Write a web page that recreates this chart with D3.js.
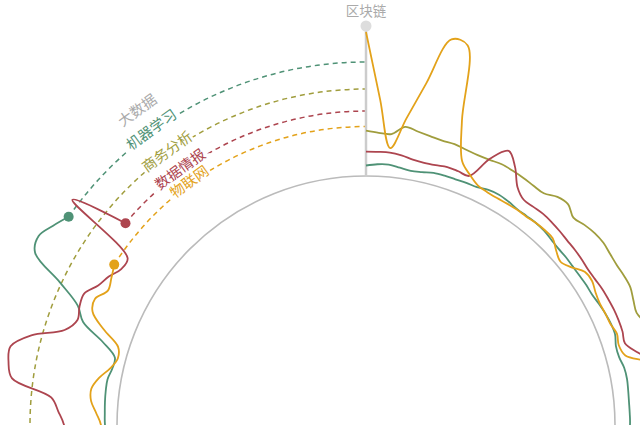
<!DOCTYPE html>
<html>
<head>
<meta charset="utf-8">
<script src="https://d3js.org/d3.v7.min.js"></script>
<style>
  body { margin: 0; background: #fff; }
  svg { display: block; font-family: "Noto Sans CJK SC", "Noto Sans", sans-serif; }
</style>
</head>
<body>
<script>
// [t, value] pairs; t runs clockwise from the top axis (0..360), value 0..100
var jiqiXuexi = [[0,7],[2.5,8],[5,8.3],[7.5,7],[10,6],[12.5,6.7],[15,8],[17.5,8.3],[20,8.3],[22.5,8.7],
  [25,9],[27.5,10.7],[30,11.3],[32.5,10.7],[35,9.7],[37.5,9.7],[40,10],[42.5,9.7],[45,8.7],[47.5,8],
  [50,8],[52.5,7.7],[55,7.7],[57.5,8],[60,8],[62.5,9],[65,10],[67.5,10.7],[70,10.7],[72.5,8.7],
  [75,8.7],[77.5,10.3],[80,10.7],[82.5,10.3],[85,10],[87.5,10],[90,10],
  [105,11],[130,13],[160,14],[190,12],[220,10],[250,9],
  [270,8],[272.5,8.3],[275,8.7],[277.5,9],[280,9],[282.5,7.3],[285,7.3],[287.5,18],[290,34.7],
  [292.5,42],[295,59.3],[297.5,82.7],[300,86],[302.5,81.3],[305,76]];

var shangwuFenxi = [[0,30.2],[2.5,29],[5,28.7],[7.5,34.5],[10,32.7],[12.5,31.3],[15,30.3],[17.5,30.3],
  [20,29.3],[22.5,28.7],[25,29],[27.5,30],[30,29.7],[32.5,29.3],[35,28.7],[37.5,28.7],[40,32.5],
  [42.5,33.5],[45,29.5],[47.5,31.5],[50,33],[52.5,33.5],[55,32.7],[57.5,32.3],[60,32.7],[62.5,32.7],
  [65,30.7],[67.5,29.3],[70,32.7],[72.5,37.3],
  [80,42],[95,46],[120,50],[150,54],[180,57],[210,60],[235,59],[255,58]];

var shujuQingbao = [[0,16.3],[2.5,16.3],[5,16.3],[7.5,15.3],[10,13.7],[12.5,13],[15,13.3],[17.5,14.3],
  [20,14],[22.5,13.7],[25,30],[27.5,40],[30,32.7],[32.5,22],[35,17.3],[37.5,17.3],[40,17.7],[42.5,17.3],
  [45,16.7],[47.5,16],[50,15.7],[52.5,15.3],[55,14.7],[57.5,15],[60,15.7],[62.5,16],[65,16.3],
  [67.5,16.3],[70,16],[72.5,15],[75,21.3],[77.5,30.7],[80,34],
  [90,38],[110,40],[140,42],[170,45],[200,41],[230,38],[255,35],
  [270,35.3],[272.5,39.3],[275,44.7],[277.5,72],[280,76],[282.5,76.7],[285,65],[287.5,44.7],
  [290,38.7],[292.5,40.7],[295,41.3],[297.5,35.3],[300,32],[302.5,27.5],[305,28],[307.5,80.7],[310,43.3]];

var wulianwang = [[0,96],[2.5,51],[5,19.3],[7.5,40],[10,65.3],[12.5,97.3],[15,96],[17.5,46.7],[20,21.3],
  [22.5,14.7],[25,10.3],[27.5,9],[30,8.7],[32.5,9],[35,9.3],[37.5,9.3],[40,10],[42.5,10.3],[45,10],
  [47.5,6],[50,3.3],[52.5,6.7],[55,12],[57.5,12.7],[60,10.7],[62.5,9.7],[65,10],[67.5,10.3],[70,12],
  [72.5,10.7],[75,13],[77.5,27.3],[80,34],
  [90,30],[120,26],[150,23],[180,20],[210,18],[240,15],[260,12],
  [270,10.7],[272.5,14],[275,18],[277.5,18.7],[280,14.7],[282.5,8.7],[285,5.3],[287.5,7.3],[290,20],
  [292.5,31.3],[295,33.3],[297.5,28],[300,30],[302.5,33]];

var names = ["机器学习", "商务分析", "数据情报", "物联网"];
var colors = ["#4f9276", "#a09d3d", "#ad454f", "#e3a21a"];
var values = [jiqiXuexi, shangwuFenxi, shujuQingbao, wulianwang];

var otherLabel = "大数据", otherValue = 92;
var axisLabel = "区块链";
var labelAt = 324;

var width = 640, height = 425;

var svg = d3.select("body").append("svg")
  .attr("width", width)
  .attr("height", height);

var g = svg.append("g")
  .attr("transform", "translate(366,425)");

var angle = d3.scaleLinear().domain([0, 360]).range([0, 2 * Math.PI]);
var radius = d3.scaleLinear().domain([0, 100]).range([249, 399]);

function px(t, v) { return radius(v) * Math.sin(angle(t)); }
function py(t, v) { return -radius(v) * Math.cos(angle(t)); }

var series = names.map(function(n, i) {
  return { name: n, color: colors[i], data: values[i] };
});

// inner circle
g.append("circle")
  .attr("r", radius(0))
  .attr("fill", "none")
  .attr("stroke", "#bbb")
  .attr("stroke-width", 1.6);

// dashed arcs from the last value back round to the top
series.forEach(function(s) {
  var last = s.data[s.data.length - 1];
  var p = d3.path();
  p.arc(0, 0, radius(last[1]), angle(last[0]) - Math.PI / 2, angle(360) - Math.PI / 2);
  g.append("path")
    .attr("d", p.toString())
    .attr("fill", "none")
    .attr("stroke", s.color)
    .attr("stroke-width", 1.5)
    .attr("stroke-dasharray", "5,4");
});

// axis at the top
g.append("line")
  .attr("x1", 0).attr("x2", 0)
  .attr("y1", -radius(0)).attr("y2", -radius(100))
  .attr("stroke", "#ccc")
  .attr("stroke-width", 2.5);

var line = d3.lineRadial()
  .angle(function(d) { return angle(d[0]); })
  .radius(function(d) { return radius(d[1]); })
  .curve(d3.curveCatmullRom);

g.selectAll(".trend")
  .data(series)
  .enter()
  .append("path")
  .attr("class", "trend")
  .attr("d", function(d) { return line(d.data); })
  .attr("fill", "none")
  .attr("stroke", function(d) { return d.color; })
  .attr("stroke-width", 1.8);

// end dots
g.selectAll(".dot")
  .data(series)
  .enter()
  .append("circle")
  .attr("class", "dot")
  .attr("cx", function(d) { var l = d.data[d.data.length - 1]; return px(l[0], l[1]); })
  .attr("cy", function(d) { var l = d.data[d.data.length - 1]; return py(l[0], l[1]); })
  .attr("r", 5)
  .attr("fill", function(d) { return d.color; });

g.append("circle")
  .attr("cx", 0).attr("cy", -radius(100))
  .attr("r", 5.5)
  .attr("fill", "#ddd");

g.append("text")
  .attr("x", 0).attr("y", -radius(100) - 10)
  .attr("text-anchor", "middle")
  .attr("font-size", 13.5)
  .attr("fill", "#aaa")
  .text(axisLabel);

// labels along the arcs
var labels = series.map(function(s) {
  return { name: s.name, color: s.color, v: s.data[s.data.length - 1][1] };
});
labels.unshift({ name: otherLabel, color: "#aaa", v: otherValue });

g.selectAll(".lab")
  .data(labels)
  .enter()
  .append("text")
  .attr("class", "lab")
  .attr("transform", function(d) {
    var r = radius(d.v) + 2;
    var a = angle(labelAt);
    return "translate(" + (r * Math.sin(a)) + "," + (-r * Math.cos(a)) + ") rotate(" + (labelAt - 360) + ")";
  })
  .attr("text-anchor", "middle")
  .attr("dy", "0.35em")
  .attr("font-size", 14.5)
  .attr("fill", function(d) { return d.color; })
  .attr("stroke", "#fff")
  .attr("stroke-width", 6)
  .attr("paint-order", "stroke")
  .text(function(d) { return d.name; });
</script>
</body>
</html>
